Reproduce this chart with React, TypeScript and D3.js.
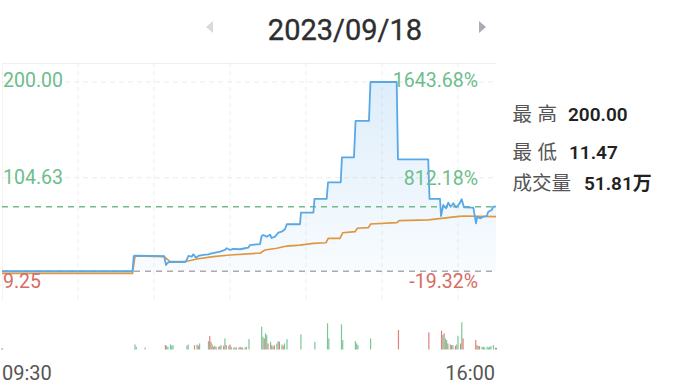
import React from 'react';
import * as d3 from 'd3';

// ---------- data ----------
const dateLabel = '2023/09/18';
const timeLabels = ['09:30', '16:00'];
const sessionMinutes = [0, 390];
const gridMinutes = [60, 120, 180, 240, 300, 360];
const priceDomain = [9.25, 200];
const priceTickValues = [200, 104.63, 9.25];
const priceTickLabels = ['200.00', '104.63', '9.25'];
const pctTickLabels = ['1643.68%', '812.18%', '-19.32%'];
const prevClose = 11.47;
const statLabels = ['最高', '最低', '成交量'];
const statValues = ['200.00', '11.47', '51.81万'];

const priceMinutes = [0, 103, 104, 105, 128, 129.5, 130.7, 131.8, 144.5, 145.8, 147.1, 149.8, 151, 153.2, 155, 158.9, 162.9, 165.5, 169.5, 172.1, 176, 177.4, 180, 182.6, 187.9, 191.8, 194.4, 195.8, 201.1, 203.7, 205, 206.3, 209, 211.6, 212.9, 215.5, 218.1, 220.8, 223.4, 224.8, 235.3, 236, 245.8, 246.7, 256.3, 257.4, 267.4, 268.4, 277.9, 279.1, 289.7, 290.9, 311.6, 312.6, 336.5, 337.5, 345.8, 346.6, 348.4, 350.5, 352.3, 354.2, 356.3, 358.4, 361, 362.9, 364.7, 372.1, 374.2, 375.2, 377.4, 380, 382.7, 383.9, 386.6, 387.9, 390];
const priceValues = [11.47, 11.47, 26.6, 27.0, 26.5, 17.7, 19.7, 20.7, 20.7, 22.7, 26.7, 26.0, 28.4, 25.0, 26.7, 27.7, 28.4, 29.4, 30.4, 31.0, 32.7, 34.4, 32.7, 33.7, 33.4, 34.4, 35.0, 37.6, 38.3, 38.6, 46.6, 47.6, 45.9, 47.9, 44.6, 45.9, 49.9, 50.9, 53.3, 58.3, 58.3, 69.8, 69.8, 83.5, 83.5, 100.1, 100.1, 125.0, 125.0, 161.2, 161.2, 200.0, 200.0, 123.0, 123.0, 83.5, 83.5, 66.5, 77.5, 74.2, 79.8, 75.8, 79.2, 75.2, 78.5, 83.2, 75.2, 74.8, 59.2, 65.8, 64.2, 65.8, 66.5, 70.8, 72.5, 75.8, 75.8];

const avgMinutes = [0, 103, 105, 128, 132.6, 144.5, 153.7, 166.8, 180, 201.1, 203.7, 207.6, 216.9, 224.8, 235.3, 245.8, 255.8, 257.6, 266.8, 269, 278.7, 280.5, 289.2, 291.1, 311.6, 313.7, 336.5, 359, 364.2, 390];
const avgValues = [9.3, 9.3, 26.7, 26.0, 21.0, 21.0, 23.7, 26.0, 27.7, 29.4, 29.4, 32.7, 34.4, 36.6, 37.6, 39.3, 39.9, 44.3, 44.3, 49.9, 50.9, 54.3, 54.9, 58.6, 59.9, 61.9, 62.6, 65.9, 66.5, 65.9];

const volMinutes = [0, 105, 106, 113, 129, 130, 131, 133, 134, 135, 146, 147, 152, 154, 155, 156, 163, 164, 165, 166, 167, 168, 169, 171, 172, 173, 175, 176, 177, 179, 180, 181, 183, 184, 185, 187, 188, 189, 190, 192, 193, 195, 205, 206, 207, 208, 209, 210, 212, 213, 214, 215, 217, 218, 219, 221, 222, 223, 225, 236, 247, 257, 258, 268, 269, 279, 280, 281, 291, 313, 337, 347, 348, 349, 350, 351, 352, 354, 355, 356, 358, 359, 360, 362, 363, 364, 374, 375, 376, 377, 379, 380, 381, 383, 384, 385, 386, 388, 390];
const volValues = [300, 1500, 800, 600, 1300, 1100, 800, 1500, 1100, 1300, 1100, 1500, 1300, 1500, 1100, 1800, 2500, 4000, 2300, 1500, 800, 1100, 800, 800, 1000, 1300, 1100, 3300, 1300, 1000, 1500, 800, 600, 600, 600, 600, 800, 600, 600, 600, 800, 3100, 6800, 3800, 3300, 4800, 4300, 1800, 2300, 1300, 800, 1300, 1800, 2500, 2300, 1500, 1100, 1800, 3100, 4500, 2300, 7800, 3300, 7500, 2800, 2500, 1800, 1300, 3300, 5800, 5100, 5600, 4300, 4800, 3300, 2800, 1800, 1500, 1300, 1300, 1100, 1500, 4100, 1800, 8100, 3300, 2800, 1300, 1000, 1000, 800, 800, 600, 800, 600, 800, 1000, 1300, 500];
const volDirs = ['n', 'g', 'g', 'g', 'r', 'g', 'g', 'g', 'g', 'g', 'g', 'g', 'r', 'g', 'r', 'g', 'g', 'r', 'r', 'g', 'r', 'g', 'r', 'g', 'r', 'g', 'r', 'g', 'r', 'g', 'r', 'g', 'r', 'g', 'r', 'g', 'r', 'g', 'g', 'r', 'g', 'g', 'g', 'g', 'r', 'g', 'g', 'r', 'g', 'r', 'g', 'r', 'g', 'g', 'r', 'g', 'r', 'g', 'g', 'g', 'g', 'g', 'g', 'g', 'g', 'g', 'g', 'g', 'g', 'r', 'r', 'r', 'g', 'r', 'g', 'g', 'r', 'g', 'r', 'g', 'r', 'g', 'g', 'r', 'g', 'r', 'r', 'r', 'g', 'r', 'g', 'g', 'g', 'g', 'g', 'g', 'g', 'g', 'n'];
const volMax = 8100;

// ---------- layout ----------
const W = 686;
const H = 392;
const left = 2;
const right = 496;
const chartTop = 63;

const GREEN = '#6dbd8c';
const RED = '#d66c63';
const BLUE = '#58a8e8';
const ORANGE = '#e0963f';

export default function App() {
  React.useEffect(() => {
    document.body.style.margin = '0';
  }, []);

  const x = d3.scaleLinear().domain(sessionMinutes).range([left, right]);
  const y = d3.scaleLinear().domain(priceDomain).range([273.5, 82]);
  const yv = d3.scaleLinear().domain([0, volMax]).range([349.5, 322.3]);

  const pricePts = priceMinutes.map((m, i) => [m, priceValues[i]] as [number, number]);
  const avgPts = avgMinutes.map((m, i) => [m, avgValues[i]] as [number, number]);

  const line = d3
    .line<[number, number]>()
    .x((d) => x(d[0]))
    .y((d) => y(d[1]));
  const area = d3
    .area<[number, number]>()
    .x((d) => x(d[0]))
    .y0(y(prevClose))
    .y1((d) => y(d[1]));

  const lastPrice = priceValues[priceValues.length - 1];
  const font = "Roboto, 'Noto Sans CJK SC', sans-serif";
  const cjk = "'Noto Sans CJK SC', Roboto, sans-serif";
  const volColor = (d: string) => (d === 'g' ? '#7cc69a' : d === 'r' ? '#df8279' : '#555');

  const statY = [121, 158.5, 190];
  const statValX = [568, 569, 584];

  return (
    <svg width={W} height={H} style={{ position: 'absolute', left: 0, top: 0, display: 'block' }}>
      <defs>
        <linearGradient id="fillGrad" x1="0" y1="0" x2="0" y2="1">
          <stop offset="0%" stopColor="#58a8e8" stopOpacity={0.2} />
          <stop offset="100%" stopColor="#58a8e8" stopOpacity={0.04} />
        </linearGradient>
      </defs>
      <rect x={0} y={0} width={W} height={H} fill="#fff" />

      {/* header */}
      <text x={345} y={40} textAnchor="middle" fontFamily={font} fontSize={29} fill="#2e2e2e" stroke="#2e2e2e" strokeWidth={0.35}>
        {dateLabel}
      </text>
      <path d="M213,21 L213,33 L206,27 Z" fill="#d9d9d9" />
      <path d="M479,21 L479,33 L486,27 Z" fill="#a9abb5" />

      {/* frame + grid */}
      <line x1={left} x2={right} y1={chartTop + 0.5} y2={chartTop + 0.5} stroke="#f0f0f0" />
      <line x1={left + 0.5} x2={left + 0.5} y1={chartTop} y2={300} stroke="#f3f3f3" />
      {gridMinutes.map((m) => (
        <line key={m} x1={x(m)} x2={x(m)} y1={chartTop} y2={300} stroke="#ededed" strokeDasharray="4,4" />
      ))}
      {priceTickValues.slice(0, 2).map((v) => (
        <line key={v} x1={left} x2={right} y1={y(v)} y2={y(v)} stroke="#ebebeb" strokeDasharray="5,4" />
      ))}

      {/* area + lines */}
      <path d={area(pricePts) || ''} fill="url(#fillGrad)" />
      <line x1={left} x2={right} y1={y(prevClose)} y2={y(prevClose)} stroke="#aaaaaa" strokeWidth={1.5} strokeDasharray="6,5" />
      <line x1={left} x2={right} y1={y(lastPrice)} y2={y(lastPrice)} stroke="#72bb8b" strokeWidth={1.5} strokeDasharray="6,5" />
      <path d={line(avgPts) || ''} fill="none" stroke={ORANGE} strokeWidth={1.7} />
      <path d={line(pricePts) || ''} fill="none" stroke={BLUE} strokeWidth={1.8} strokeLinejoin="round" />

      {/* axis labels */}
      <text x={3} y={86.5} fontFamily={font} fontSize={19.5} fill={GREEN}>{priceTickLabels[0]}</text>
      <text x={3} y={184} fontFamily={font} fontSize={19.5} fill={GREEN}>{priceTickLabels[1]}</text>
      <text x={3} y={288} fontFamily={font} fontSize={19.5} fill={RED}>{priceTickLabels[2]}</text>
      <text x={478} y={86.5} textAnchor="end" fontFamily={font} fontSize={19.5} fill={GREEN}>{pctTickLabels[0]}</text>
      <text x={478} y={185} textAnchor="end" fontFamily={font} fontSize={19.5} fill={GREEN}>{pctTickLabels[1]}</text>
      <text x={478} y={288} textAnchor="end" fontFamily={font} fontSize={19.5} fill={RED}>{pctTickLabels[2]}</text>

      {/* volume */}
      {volMinutes.map((m, i) => (
        <rect
          key={i}
          x={x(m) - 0.6}
          width={1.2}
          y={yv(volValues[i])}
          height={yv(0) - yv(volValues[i])}
          fill={volColor(volDirs[i])}
        />
      ))}

      {/* time labels */}
      <text x={2} y={380} fontFamily={font} fontSize={20} fill="#555">{timeLabels[0]}</text>
      <text x={495} y={380} textAnchor="end" fontFamily={font} fontSize={20} fill="#555">{timeLabels[1]}</text>

      {/* stats */}
      {statLabels.map((s, i) => (
        <text key={s} x={512.5} y={statY[i]} fontFamily={cjk} fontSize={19.5} fill="#555" letterSpacing={i < 2 ? 5.5 : 0}>
          {s}
        </text>
      ))}
      {statValues.map((s, i) => (
        <text key={s} x={statValX[i]} y={statY[i]} fontFamily={font} fontSize={19} fontWeight={600} fill="#222">
          {s}
        </text>
      ))}
    </svg>
  );
}
